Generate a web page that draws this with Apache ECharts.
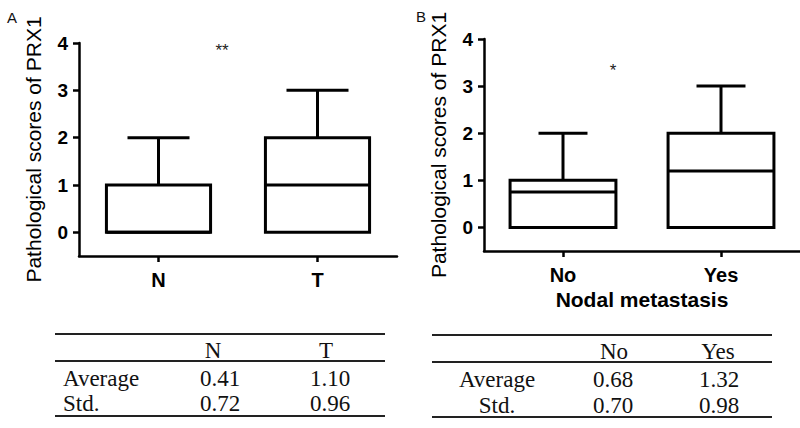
<!DOCTYPE html>
<html><head><meta charset="utf-8">
<script src="https://cdn.jsdelivr.net/npm/echarts@6/dist/echarts.min.js"></script>
<style>html,body{margin:0;padding:0;background:#fff}#c{width:800px;height:428px}</style>
</head><body><div id="c"></div>
<script>
// ---- data ----
const catsA = ['N', 'T'];
// [min, Q1, median, Q3, max]
const boxA = [[0, 0, 0, 1, 2], [0, 0, 1, 2, 3]];
const catsB = ['No', 'Yes'];
const boxB = [[0, 0, 0.75, 1, 2], [0, 0, 1.2, 2, 3]];
const yTicks = [0, 1, 2, 3, 4];
const yName = 'Pathological scores of PRX1';
const xNameB = 'Nodal metastasis';
const sigA = '**';
const sigB = '*';
const tableRowLabels = ['Average', 'Std.'];
const tableA = { head: ['N', 'T'], avg: ['0.41', '1.10'], std: ['0.72', '0.96'] };
const tableB = { head: ['No', 'Yes'], avg: ['0.68', '1.32'], std: ['0.70', '0.98'] };

const chart = echarts.init(document.getElementById('c'), null, { renderer: 'svg' });

function makeRender(boxFrac, capFrac) {
  return function (params, api) {
    const x = api.value(0);
    const lo = api.value(1), q1 = api.value(2), med = api.value(3), q3 = api.value(4), hi = api.value(5);
    const band = api.size([1, 0])[0];
    const bw = band * boxFrac, cw = band * capFrac;
    const pQ1 = api.coord([x, q1]), pQ3 = api.coord([x, q3]), pMed = api.coord([x, med]);
    const pLo = api.coord([x, lo]), pHi = api.coord([x, hi]);
    const cx = pQ1[0];
    const st = { stroke: '#000', lineWidth: 3, fill: null };
    return {
      type: 'group',
      children: [
        { type: 'line', shape: { x1: cx, y1: pQ3[1], x2: cx, y2: pHi[1] }, style: st },
        { type: 'line', shape: { x1: cx - cw / 2, y1: pHi[1], x2: cx + cw / 2, y2: pHi[1] }, style: st },
        { type: 'line', shape: { x1: cx, y1: pQ1[1], x2: cx, y2: pLo[1] }, style: st },
        { type: 'rect', shape: { x: cx - bw / 2, y: pQ3[1], width: bw, height: pQ1[1] - pQ3[1] }, style: { stroke: '#000', lineWidth: 3, fill: '#fff' } },
        { type: 'line', shape: { x1: cx - bw / 2, y1: pMed[1], x2: cx + bw / 2, y2: pMed[1] }, style: st }
      ]
    };
  };
}

function yAxisCfg(gridIndex) {
  return {
    type: 'value', gridIndex, min: -0.5, max: 4,
    name: yName, nameLocation: 'middle', nameGap: 35, nameRotate: 90,
    nameTextStyle: { fontFamily: 'Liberation Sans, Arial', fontSize: 21, color: '#000' },
    axisLine: { show: true, lineStyle: { color: '#000', width: 2.5 } },
    axisTick: { show: true, length: 6, lineStyle: { color: '#000', width: 2.5 }, customValues: yTicks },
    axisLabel: { customValues: yTicks, margin: 11, fontFamily: 'Liberation Sans, Arial', fontWeight: 'bold', fontSize: 19, color: '#000' },
    splitLine: { show: false }
  };
}
function xAxisCfg(gridIndex, cats, name) {
  return {
    type: 'category', gridIndex, data: cats,
    name: name || '', nameLocation: 'middle', nameGap: 38,
    nameTextStyle: { fontFamily: 'Liberation Sans, Arial', fontWeight: 'bold', fontSize: 21, color: '#000' },
    axisLine: { show: true, onZero: false, lineStyle: { color: '#000', width: 2.5 } },
    axisTick: { show: true, alignWithLabel: true, length: 6, lineStyle: { color: '#000', width: 2.5 } },
    axisLabel: { margin: 14, fontFamily: 'Liberation Sans, Arial', fontWeight: 'bold', fontSize: 20, color: '#000' },
    splitLine: { show: false }
  };
}

const serif = 'Liberation Serif, Times New Roman, serif';
function tableGraphics(t, x1, x2, yTop, yMid, yBot, rowLabelX, rowAlign, colX, valX, rowY) {
  const g = [];
  const ls = { stroke: '#222', lineWidth: 2 };
  [yTop, yMid, yBot].forEach(y => g.push({ type: 'line', shape: { x1, y1: y, x2, y2: y }, style: ls }));
  const txt = (s, x, y, align) => ({ type: 'text', x, y, style: { text: s, fill: '#111', font: '23px ' + serif, textAlign: align || 'center', textVerticalAlign: 'middle' } });
  t.head.forEach((h, i) => g.push(txt(h, colX[i], rowY[0])));
  g.push(txt(tableRowLabels[0], rowLabelX, rowY[1], rowAlign));
  g.push(txt(tableRowLabels[1], rowLabelX, rowY[2], rowAlign));
  t.avg.forEach((v, i) => g.push(txt(v, valX[i], rowY[1])));
  t.std.forEach((v, i) => g.push(txt(v, valX[i], rowY[2])));
  return g;
}

const graphics = [
  { type: 'text', x: 12, y: 17, style: { text: 'A', fill: '#111', font: '15px Liberation Sans, Arial', textAlign: 'center', textVerticalAlign: 'middle' } },
  { type: 'text', x: 421, y: 16, style: { text: 'B', fill: '#111', font: '15px Liberation Sans, Arial', textAlign: 'center', textVerticalAlign: 'middle' } },
  { type: 'text', x: 222, y: 50, style: { text: sigA, fill: '#222', font: '17px Liberation Sans, Arial', textAlign: 'center', textVerticalAlign: 'middle' } },
  { type: 'text', x: 613, y: 70, style: { text: sigB, fill: '#222', font: '17px Liberation Sans, Arial', textAlign: 'center', textVerticalAlign: 'middle' } }
].concat(
  tableGraphics(tableA, 55, 385, 334, 361, 416, 63, 'left', [213, 326], [220, 330], [350, 378, 403]),
  tableGraphics(tableB, 432, 772, 335, 362, 417, 497, 'center', [614, 718], [613, 719], [351, 379, 405])
);

chart.setOption({
  animation: false,
  backgroundColor: '#fff',
  grid: [
    { left: 79, width: 318, top: 43, height: 213 },
    { left: 484, width: 316, top: 39, height: 212 }
  ],
  xAxis: [xAxisCfg(0, catsA), xAxisCfg(1, catsB, xNameB)],
  yAxis: [yAxisCfg(0), yAxisCfg(1)],
  series: [
    { type: 'custom', xAxisIndex: 0, yAxisIndex: 0, renderItem: makeRender(0.655, 0.39),
      encode: { x: 0, y: [1, 2, 3, 4, 5] }, data: boxA.map((d, i) => [i].concat(d)) },
    { type: 'custom', xAxisIndex: 1, yAxisIndex: 1, renderItem: makeRender(0.67, 0.31),
      encode: { x: 0, y: [1, 2, 3, 4, 5] }, data: boxB.map((d, i) => [i].concat(d)) }
  ],
  graphic: graphics
});
</script></body></html>
